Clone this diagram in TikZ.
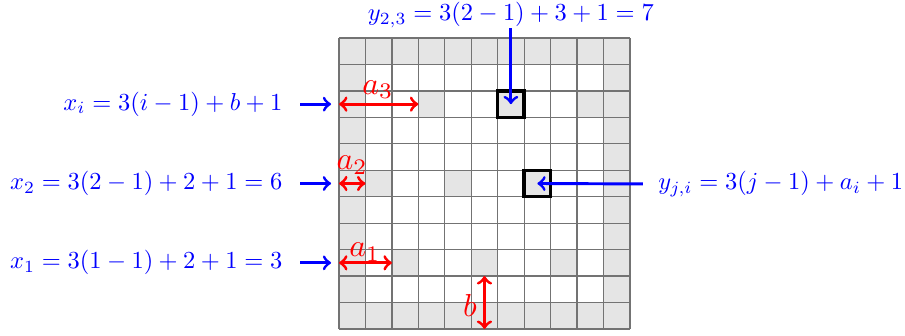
\documentclass[tikz,border=0pt]{standalone}
\begin{document}
\begin{tikzpicture}[x=0.38cm,y=-0.38cm,
  gridl/.style={draw=black!55, line width=0.5pt},
  hibox/.style={draw=black, line width=1.4pt, minimum size=0.38cm, inner sep=0pt, fill=gray!20},
  barrow/.style={->, draw=blue, line width=1.2pt},
  rarrow/.style={<->, draw=red, line width=1.25pt},
  blab/.style={text=blue, inner sep=0pt},
  rlab/.style={text=red, inner sep=0pt}]
\useasboundingbox (-12.817,-1.437) rectangle (21.399,11.229);
% cells
\fill[gray!20] (0,0) rectangle (11,11);
\fill[white] (1,1) rectangle (10,10);
\foreach \r/\a in {2/3,5/1,8/2}
  \foreach \j in {0,1,2}
    \fill[gray!20] ({\a+3*\j},\r) rectangle ++(1,1);
\foreach \k in {0,...,11} {
  \draw[gridl] (\k,0) -- (\k,11);
  \draw[gridl] (0,\k) -- (11,\k);
}
% highlighted cells
\node[hibox] (b23) at (6.5,2.5) {};
\node[hibox] (b75) at (7.5,5.5) {};
% blue labels
\node[blab] (ytop) at (6.5,-0.86) {$y_{2,3} = 3(2-1)+3+1 = 7$};
\node[blab, anchor=west] (yji) at (12.06,5.52) {$y_{j,i} = 3(j-1)+a_i+1$};
\node[blab, anchor=east] (xi) at (-2.12,2.5) {$x_i = 3(i-1)+b+1$};
\node[blab, anchor=east] (x2) at (-2.12,5.5) {$x_2 = 3(2-1)+2+1 = 6$};
\node[blab, anchor=east] (x1) at (-2.12,8.5) {$x_1 = 3(1-1)+2+1 = 3$};
\coordinate (e3) at (-0.3,2.5);
\coordinate (e2) at (-0.3,5.5);
\coordinate (e1) at (-0.3,8.5);
\draw[barrow] (ytop.south) -- (b23.center);
\draw[barrow, shorten <=0.57*0.38cm] (yji.west) -- (b75.center);
\draw[barrow, shorten <=0.65*0.38cm] (xi.east) -- (e3);
\draw[barrow, shorten <=0.65*0.38cm] (x2.east) -- (e2);
\draw[barrow, shorten <=0.65*0.38cm] (x1.east) -- (e1);
% red arrows
\coordinate (a3l) at (0,2.5); \coordinate (a3r) at (3,2.5);
\coordinate (a2l) at (0,5.5); \coordinate (a2r) at (1,5.5);
\coordinate (a1l) at (0,8.5); \coordinate (a1r) at (2,8.5);
\coordinate (bt) at (5.5,9); \coordinate (bb) at (5.5,11);
\draw[rarrow] (a3l) -- (a3r);
\draw[rarrow] (a2l) -- (a2r);
\draw[rarrow] (a1l) -- (a1r);
\draw[rarrow] (bt) -- (bb);
\node[rlab, scale=1.3] (la3) at (1.47,1.95) {$a_3$};
\node[rlab, scale=1.3] (la2) at (0.5,4.8) {$a_2$};
\node[rlab, scale=1.3] (la1) at (0.98,8.1) {$a_1$};
\node[rlab, scale=1.3] (lb) at (4.95,10.1) {$b$};
\end{tikzpicture}
\end{document}
